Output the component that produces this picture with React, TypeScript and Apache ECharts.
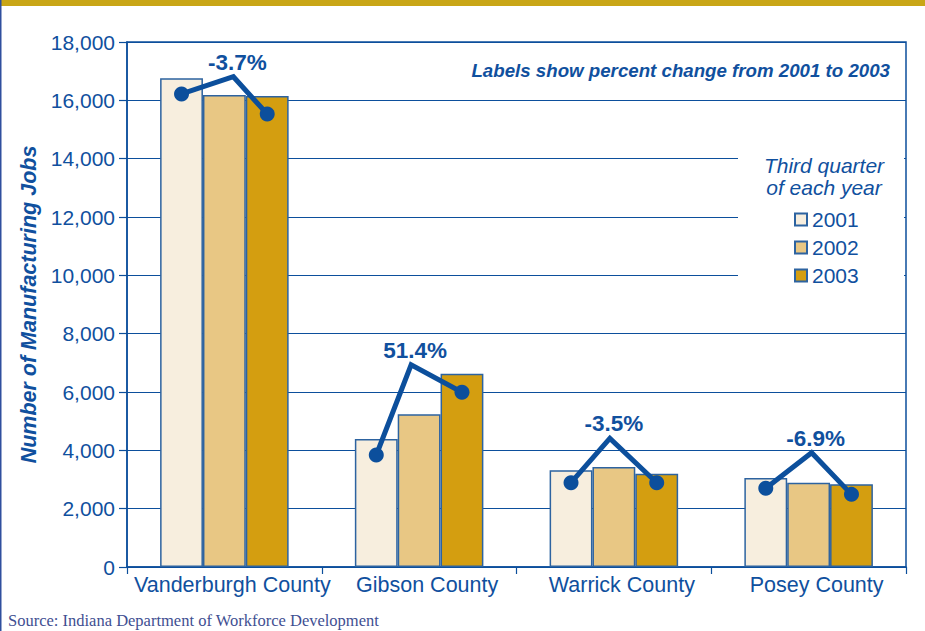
import React, { useEffect, useRef } from "react";
import * as echarts from "echarts";

const counties = ["Vanderburgh County", "Gibson County", "Warrick County", "Posey County"];
const years = ["2001", "2002", "2003"];
const jobs2001 = [16760, 4390, 3315, 3050];
const jobs2002 = [16180, 5235, 3430, 2890];
const jobs2003 = [16150, 6625, 3200, 2835];
const pctLabels = ["-3.7%", "51.4%", "-3.5%", "-6.9%"];
// change-indicator marker heights (in jobs units)
const markStart = [16220, 3840, 2890, 2700];
const markPeak = [16810, 6930, 4410, 3920];
const markEnd = [15530, 5990, 2890, 2490];

const FONT = "'Liberation Sans', Arial, Helvetica, sans-serif";
const BLUE = "#0c4f9c";
const TEXT = "#10509e";
const barColors = ["#f7eede", "#e8c784", "#d49e10"];
const peakShift = [9, -8, -4, 3];
const CAT_GAP = 0.34;

export default function App() {
  const ref = useRef<HTMLDivElement>(null);
  useEffect(() => {
    if (!ref.current) return;
    const chart = echarts.init(ref.current, null, { renderer: "svg" });
    const yearData = [jobs2001, jobs2002, jobs2003];
    const barSeries = years.map((y, k) => ({
      name: y,
      type: "bar",
      data: yearData[k],
      barGap: "0%",
      barCategoryGap: CAT_GAP * 100 + "%",
      itemStyle: { color: barColors[k], borderColor: "#2d63a0", borderWidth: 1.5 },
      z: 2,
    }));
    const markData = counties.map((_, i) => [i, markStart[i], markPeak[i], markEnd[i]]);
    chart.setOption({
      animation: false,
      grid: {
        left: 127,
        right: 19,
        top: 42,
        bottom: 64,
        show: true,
        borderColor: BLUE,
        borderWidth: 1.5,
      },
      legend: {
        data: years,
        orient: "vertical",
        left: 789,
        top: 204,
        itemWidth: 12,
        itemHeight: 12,
        itemGap: 7,
        icon: "rect",
        selectedMode: false,
        textStyle: { fontFamily: FONT, fontSize: 21, color: TEXT, lineHeight: 21 },
        z: 10,
      },
      xAxis: {
        type: "category",
        data: counties,
        axisLine: { lineStyle: { color: BLUE, width: 1.5 } },
        axisTick: { show: true, length: 7, interval: 0, lineStyle: { color: BLUE, width: 1.2 } },
        axisLabel: {
          fontFamily: FONT,
          fontSize: 21.5,
          color: TEXT,
          margin: 7,
          interval: 0,
          padding: [0, 0, 0, 16],
        },
      },
      yAxis: {
        type: "value",
        min: 0,
        max: 18000,
        interval: 2000,
        name: "Number of Manufacturing Jobs",
        nameLocation: "middle",
        nameGap: 84,
        nameTextStyle: { fontFamily: FONT, fontSize: 21.5, fontWeight: "bold", fontStyle: "italic", color: TEXT },
        axisLine: { show: true, lineStyle: { color: BLUE, width: 1.5 } },
        axisTick: { show: true, length: 8, lineStyle: { color: BLUE, width: 1.2 } },
        axisLabel: {
          fontFamily: FONT,
          fontSize: 21,
          color: TEXT,
          margin: 12,
          formatter: (v: number) => v.toLocaleString("en-US"),
        },
        splitLine: { show: true, lineStyle: { color: BLUE, width: 1.2 } },
      },
      series: [
        ...barSeries,
        {
          type: "custom",
          name: "change",
          data: markData,
          encode: { x: 0, y: [1, 2, 3] },
          z: 5,
          renderItem: (params: any, api: any) => {
            const i = api.value(0);
            const s = api.coord([i, api.value(1)]);
            const p = api.coord([i, api.value(2)]);
            const e = api.coord([i, api.value(3)]);
            const band = api.size([1, 0])[0];
            const bw = (band * (1 - CAT_GAP)) / 3;
            const x1 = s[0] - bw;
            const xp = p[0] + peakShift[i];
            const x3 = e[0] + bw;
            return {
              type: "group",
              children: [
                {
                  type: "polyline",
                  shape: { points: [[x1, s[1]], [xp, p[1]], [x3, e[1]]] },
                  style: { stroke: BLUE, lineWidth: 5, fill: null, lineJoin: "miter" },
                },
                { type: "circle", shape: { cx: x1, cy: s[1], r: 7.5 }, style: { fill: BLUE } },
                { type: "circle", shape: { cx: x3, cy: e[1], r: 7.5 }, style: { fill: BLUE } },
                {
                  type: "text",
                  x: xp + 4,
                  y: p[1] - 3,
                  style: {
                    text: pctLabels[i],
                    fill: TEXT,
                    font: `bold 22.5px ${FONT}`,
                    align: "center",
                    verticalAlign: "bottom",
                  },
                },
              ],
            };
          },
        },
      ],
      graphic: [
        { type: "rect", left: 0, top: 0, shape: { width: 925, height: 6 }, style: { fill: "#c9a617" }, z: 20 },
        { type: "rect", left: 0, top: 0, shape: { width: 1.5, height: 631 }, style: { fill: "#2f4f9e" }, z: 20 },
        { type: "rect", x: 738, y: 132, shape: { width: 166, height: 166 }, style: { fill: "#ffffff" }, z: 1 },
        {
          type: "text",
          x: 890,
          y: 70,
          z: 10,
          style: {
            text: "Labels show percent change from 2001 to 2003",
            fill: TEXT,
            font: `italic bold 18.7px ${FONT}`,
            align: "right",
            verticalAlign: "middle",
          },
        },
        {
          type: "text",
          x: 824,
          y: 165,
          z: 10,
          style: { text: "Third quarter", fill: TEXT, font: `italic 21px ${FONT}`, align: "center", verticalAlign: "middle" },
        },
        {
          type: "text",
          x: 824,
          y: 187,
          z: 10,
          style: { text: "of each year", fill: TEXT, font: `italic 21px ${FONT}`, align: "center", verticalAlign: "middle" },
        },
        {
          type: "text",
          x: 8,
          y: 620,
          z: 10,
          style: {
            text: "Source: Indiana Department of Workforce Development",
            fill: "#3f4f92",
            font: `16.5px 'Liberation Serif', 'Times New Roman', serif`,
            align: "left",
            verticalAlign: "middle",
          },
        },
      ],
    });
    return () => chart.dispose();
  }, []);
  return (
    <div
      ref={ref}
      style={{ position: "fixed", left: 0, top: 0, width: 925, height: 631, background: "#ffffff" }}
    />
  );
}
